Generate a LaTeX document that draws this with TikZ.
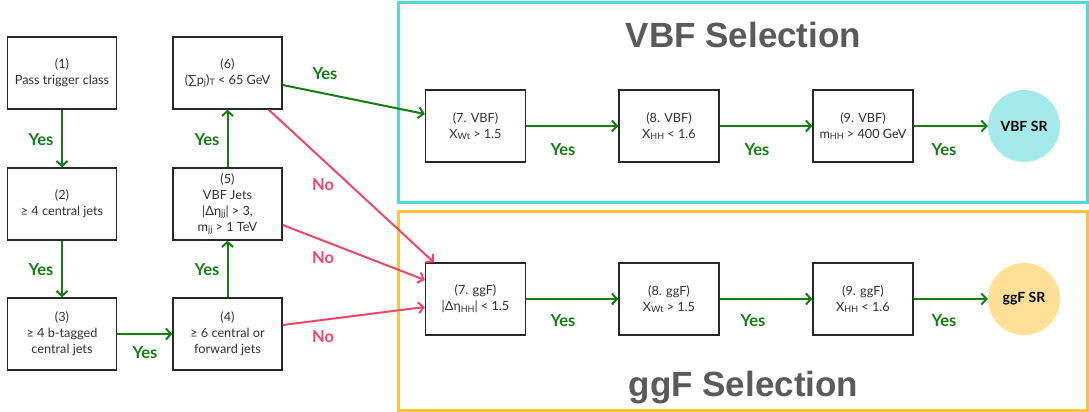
\documentclass[tikz,border=0pt]{standalone}
\usepackage{fontspec}
\setmainfont{Lato}
\newfontfamily\titlefont{Liberation Sans}
\usetikzlibrary{arrows.meta,calc}
\definecolor{ygreen}{RGB}{20,125,20}
\definecolor{nred}{RGB}{240,72,100}
\definecolor{vcyan}{RGB}{78,218,218}
\definecolor{gorange}{RGB}{255,195,55}
\definecolor{vfill}{RGB}{165,234,234}
\definecolor{gfill}{RGB}{255,224,150}
\definecolor{boxline}{RGB}{40,40,40}
\definecolor{txt}{RGB}{50,50,50}
\definecolor{ttl}{RGB}{90,90,90}
\newcommand\lsub[1]{\raisebox{-1.5pt}{\fontsize{9}{9}\selectfont #1}}
\tikzset{
 cutbox/.style={draw=boxline, line width=1.4pt, minimum width=109pt, minimum height=72pt, inner sep=0pt, align=center, text=txt, font=\fontsize{12.7}{15.8}\selectfont, fill=white},
 selbox/.style={cutbox, minimum width=100pt},
 yesarrow/.style={draw=ygreen, line width=2pt, -{Straight Barb[length=5pt,width=11pt]}},
 noarrow/.style={draw=nred, line width=2pt, -{Straight Barb[length=5pt,width=11pt]}},
 yeslabel/.style={text=ygreen, font=\bfseries\fontsize{16.5}{16.5}\selectfont, inner sep=0pt},
 nolabel/.style={text=nred, font=\bfseries\fontsize{16.5}{16.5}\selectfont, inner sep=0pt},
 srnode/.style={circle, minimum size=72pt, inner sep=0pt, font=\bfseries\fontsize{14}{14}\selectfont},
 region/.style={line width=3pt},
 title/.style={text=ttl, font=\titlefont\bfseries\fontsize{35}{35}\selectfont, anchor=base, inner sep=0pt}
}
\begin{document}
\begin{tikzpicture}[x=1pt,y=-1pt]
\useasboundingbox (0,0) rectangle (1089,412);
% selection regions
\draw[region, draw=vcyan] (398,3) rectangle (1087,202);
\draw[region, draw=gorange] (398,211) rectangle (1087,410);
\node[title] (tv) at (743.5,48) {VBF Selection};
\node[title] (tg) at (743.5,396) {ggF Selection};
% cut boxes
\node[cutbox] (n1) at (62,73) {(1)\\Pass trigger class};
\node[cutbox] (n2) at (62,204) {(2)\\≥ 4 central jets};
\node[cutbox] (n3) at (62,334) {(3)\\≥ 4 b-tagged\\central jets};
\node[cutbox] (n4) at (227.5,334) {(4)\\≥ 6 central or\\forward jets};
\node[cutbox] (n5) at (227.5,204) {(5)\\VBF Jets\\|Δη\lsub{jj}| > 3,\\m\lsub{jj} > 1 TeV};
\node[cutbox] (n6) at (227.5,73) {(6)\\(∑p\lsub{j})\lsub{T} < 65 GeV};
% VBF row
\node[selbox] (v7) at (475.5,126) {(7. VBF)\\X\lsub{Wt} > 1.5};
\node[selbox] (v8) at (669,126) {(8. VBF)\\X\lsub{HH} < 1.6};
\node[selbox] (v9) at (863,126) {(9. VBF)\\m\lsub{HH} > 400 GeV};
\node[srnode, fill=vfill] (vsr) at (1024,126) {VBF SR};
% ggF row
\node[selbox] (g7) at (475.5,299) {(7. ggF)\\|Δη\lsub{HH}| < 1.5};
\node[selbox] (g8) at (669,299) {(8. ggF)\\X\lsub{Wt} > 1.5};
\node[selbox] (g9) at (863,299) {(9. ggF)\\X\lsub{HH} < 1.6};
\node[srnode, fill=gfill] (gsr) at (1024,299) {ggF SR};
% left chain
\draw[yesarrow] (n1) -- (n2);
\draw[yesarrow] (n2) -- (n3);
\draw[yesarrow] (n3) -- (n4);
\draw[yesarrow] (n4) -- (n5);
\draw[yesarrow] (n5) -- (n6);
\node[yeslabel] (y12) at (41,140) {Yes};
\node[yeslabel] (y23) at (41,270) {Yes};
\node[yeslabel] (y34) at (145,353) {Yes};
\node[yeslabel] (y45) at (207,270) {Yes};
\node[yeslabel] (y56) at (207,140) {Yes};
% to VBF / ggF
\draw[yesarrow] ($(n6.east)+(0,12)$) -- ($(v7.west)+(0,-12)$);
\node[yeslabel] (y6v) at (325,74) {Yes};
\draw[noarrow] ($(n6.south east)+(-14,0)$) -- ($(g7.north west)+(9,0)$);
\draw[noarrow] ($(n5.east)+(0,21)$) -- ($(g7.west)+(0,-19)$);
\draw[noarrow] ($(n4.east)+(0,-9)$) -- ($(g7.west)+(0,8)$);
\node[nolabel] (no6) at (323,185) {No};
\node[nolabel] (no5) at (323,258) {No};
\node[nolabel] (no4) at (323,337) {No};
% VBF chain
\draw[yesarrow] (v7) -- (v8);
\draw[yesarrow] (v8) -- (v9);
\draw[yesarrow] (v9) -- (vsr);
\node[yeslabel] (yv1) at (563,150) {Yes};
\node[yeslabel] (yv2) at (757,150) {Yes};
\node[yeslabel] (yv3) at (944,150) {Yes};
% ggF chain
\draw[yesarrow] (g7) -- (g8);
\draw[yesarrow] (g8) -- (g9);
\draw[yesarrow] (g9) -- (gsr);
\node[yeslabel] (yg1) at (563,321) {Yes};
\node[yeslabel] (yg2) at (753,321) {Yes};
\node[yeslabel] (yg3) at (944,321) {Yes};
\end{tikzpicture}
\end{document}
